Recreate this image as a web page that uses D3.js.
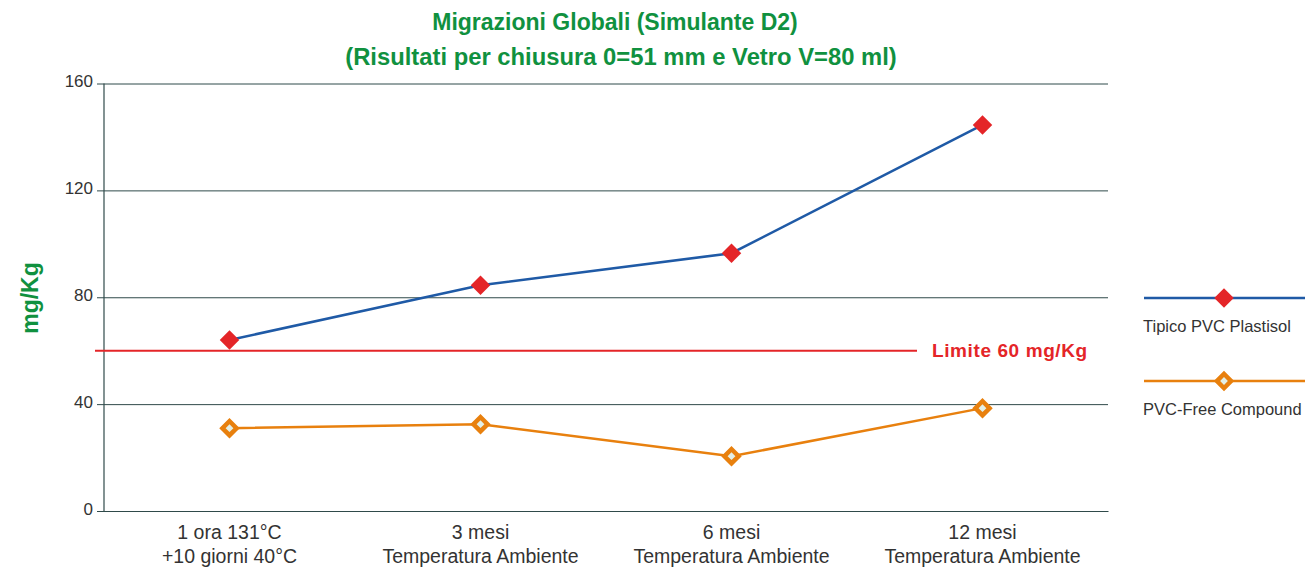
<!DOCTYPE html>
<html>
<head>
<meta charset="utf-8">
<script src="https://cdn.jsdelivr.net/npm/d3@7"></script>
<style>
  body { margin: 0; background: #fff; }
  svg { display: block; font-family: "Liberation Sans", Arial, sans-serif; }
</style>
</head>
<body>
<svg id="chart" width="1307" height="567"></svg>
<script>
// data
var categories = ['1 ora 131°C|+10 giorni 40°C', '3 mesi|Temperatura Ambiente', '6 mesi|Temperatura Ambiente', '12 mesi|Temperatura Ambiente']
var plastisol = [64, 84.5, 96.5, 144.5]
var pvcFree = [31, 32.5, 20.5, 38.5]
var yTicks = [0, 40, 80, 120, 160]
var limit = 60
var seriesNames = ['Tipico PVC Plastisol', 'PVC-Free Compound']

var colorBlue = '#1f5aa6'
var colorRed = '#e42528'
var colorOrange = '#e8800e'
var colorGreen = '#10913f'
var colorGrid = '#2f4a4a'

var svg = d3.select('#chart')
var plotLeft = 104, plotRight = 1108, plotTop = 83.5, plotBottom = 511

var x = d3.scaleBand().domain(categories).range([plotLeft, plotRight])
var y = d3.scaleLinear().domain([0, 160]).range([plotBottom, plotTop])
var cx = function(d, i) { return x(categories[i]) + x.bandwidth() / 2 }

// title
svg.append('text').attr('x', 615).attr('y', 30).attr('text-anchor', 'middle')
  .attr('fill', colorGreen).attr('font-weight', 'bold').attr('font-size', 23)
  .text('Migrazioni Globali (Simulante D2)')
svg.append('text').attr('x', 621).attr('y', 65).attr('text-anchor', 'middle')
  .attr('fill', colorGreen).attr('font-weight', 'bold').attr('font-size', 23.8)
  .text('(Risultati per chiusura 0=51 mm e Vetro V=80 ml)')

// y label
svg.append('text').attr('transform', 'translate(38,298) rotate(-90)')
  .attr('text-anchor', 'middle').attr('fill', colorGreen)
  .attr('font-weight', 'bold').attr('font-size', 23).text('mg/Kg')

// grid
var yAxis = svg.append('g').attr('transform', 'translate(' + plotLeft + ',0)')
  .call(d3.axisLeft(y).tickValues(yTicks).tickSize(-(plotRight - plotLeft)).tickPadding(12))
yAxis.select('.domain').remove()
yAxis.selectAll('.tick line').attr('stroke', colorGrid).attr('stroke-width', 1).attr('x1', -7)
yAxis.selectAll('.tick text').attr('fill', '#333').attr('font-size', 17).attr('dx', 1).attr('dy', '0.2em')
svg.append('line').attr('x1', plotLeft).attr('x2', plotLeft).attr('y1', plotTop).attr('y2', plotBottom)
  .attr('stroke', colorGrid).attr('stroke-width', 1.2)

// x labels
var xAxis = svg.append('g').attr('transform', 'translate(0,' + plotBottom + ')')
  .call(d3.axisBottom(x).tickSize(0).tickFormat(''))
xAxis.select('.domain').attr('stroke', colorGrid).attr('stroke-width', 1.2)
xAxis.selectAll('.tick').each(function(d) {
  var parts = d.split('|')
  var t = d3.select(this).append('text').attr('text-anchor', 'middle')
    .attr('fill', '#333').attr('font-size', 19.5)
  parts.forEach(function(p, k) {
    t.append('tspan').attr('x', 0).attr('y', 28 + k * 24).text(p)
  })
})

// limit line
svg.append('line').attr('x1', 95).attr('x2', 917).attr('y1', y(limit)).attr('y2', y(limit))
  .attr('stroke', colorRed).attr('stroke-width', 2)
svg.append('text').attr('x', 932).attr('y', y(limit) + 6.5).attr('fill', colorRed)
  .attr('font-weight', 'bold').attr('font-size', 19).attr('letter-spacing', 0.6)
  .text('Limite ' + limit + ' mg/Kg')

var line = d3.line().x(cx).y(function(d) { return y(d) })
var diamond = d3.symbol().type(d3.symbolSquare)

function series(values, color, marker) {
  svg.append('path').datum(values).attr('d', line).attr('fill', 'none')
    .attr('stroke', color).attr('stroke-width', 2.5)
  svg.selectAll(null).data(values).enter().append('path')
    .attr('d', diamond.size(marker.size))
    .attr('transform', function(d, i) { return 'translate(' + cx(d, i) + ',' + y(d) + ') rotate(45)' })
    .attr('fill', marker.fill).attr('stroke', marker.stroke).attr('stroke-width', marker.sw)
}
var redMarker = { size: 190, fill: colorRed, stroke: 'none', sw: 0 }
var orangeMarker = { size: 100, fill: '#e3efe6', stroke: colorOrange, sw: 4.5 }
series(plastisol, colorBlue, redMarker)
series(pvcFree, colorOrange, orangeMarker)

// legend
var legend = [
  { name: seriesNames[0], color: colorBlue, marker: redMarker, y: 298 },
  { name: seriesNames[1], color: colorOrange, marker: orangeMarker, y: 381 }
]
legend.forEach(function(l) {
  svg.append('line').attr('x1', 1144).attr('x2', 1305).attr('y1', l.y).attr('y2', l.y)
    .attr('stroke', l.color).attr('stroke-width', 2.5)
  svg.append('path').attr('d', diamond.size(l.marker.size))
    .attr('transform', 'translate(1224,' + l.y + ') rotate(45)')
    .attr('fill', l.marker.fill).attr('stroke', l.marker.stroke).attr('stroke-width', l.marker.sw)
  svg.append('text').attr('x', 1143).attr('y', l.y + 34).attr('fill', '#333')
    .attr('font-size', 16.5).text(l.name)
})
</script>
</body>
</html>
